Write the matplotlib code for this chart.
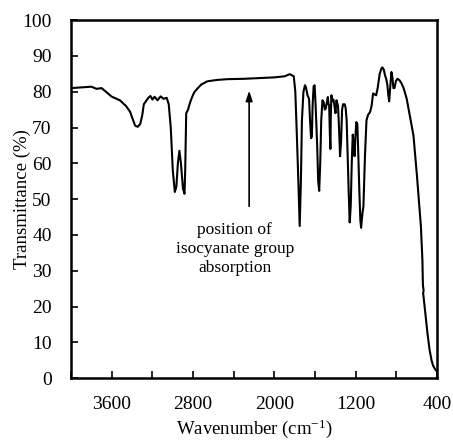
import matplotlib
matplotlib.use("Agg")
import matplotlib.pyplot as plt
from matplotlib.ticker import MultipleLocator, FuncFormatter

plt.rcParams['font.family'] = ['Liberation Serif', 'DejaVu Serif']
plt.rcParams['mathtext.fontset'] = 'custom'
plt.rcParams['mathtext.rm'] = 'Liberation Serif'

wavenumber = [4000, 3900, 3800, 3750, 3700, 3650, 3600, 3520, 3460, 3420, 3390, 3370, 3345, 3320,
              3300, 3285, 3260, 3240, 3220, 3200, 3180, 3150, 3120, 3090, 3060, 3040, 3020, 3000,
              2980, 2965, 2950, 2935, 2920, 2900, 2885, 2878, 2868, 2850, 2830, 2810, 2790, 2760,
              2720, 2660, 2560, 2460, 2300, 2141, 2000, 1900, 1850, 1810, 1795, 1780, 1765, 1752,
              1740, 1730, 1715, 1700, 1690, 1675, 1660, 1650, 1640, 1632, 1625, 1615, 1605, 1595,
              1580, 1570, 1560, 1550, 1540, 1528, 1515, 1505, 1495, 1485, 1475, 1468, 1462, 1455,
              1450, 1446, 1440, 1430, 1420, 1410, 1400, 1390, 1375, 1365, 1355, 1345, 1335, 1325,
              1310, 1300, 1290, 1280, 1270, 1260, 1250, 1240, 1230, 1220, 1212, 1205, 1195, 1185,
              1175, 1165, 1155, 1148, 1135, 1125, 1110, 1095, 1080, 1060, 1045, 1030, 1000, 985,
              965, 950, 940, 925, 912, 902, 890, 880, 872, 862, 850, 840, 830, 820, 805, 790, 770,
              750, 730, 700, 680, 660, 633, 600, 575, 560, 545, 540, 533, 538, 525, 505, 495, 475,
              455, 440, 420, 405]
transmittance = [81.0, 81.2, 81.4, 80.8, 81.0, 79.8, 78.6, 77.6, 76.0, 74.4, 72.0, 70.5, 70.2, 71.0,
                 73.5, 76.5, 77.5, 78.3, 78.8, 77.8, 78.6, 77.6, 78.7, 78.0, 78.3, 76.5, 70.0, 58.0,
                 52.0, 53.5, 60.0, 63.5, 60.0, 53.0, 51.5, 58.0, 74.0, 75.0, 77.0, 78.5, 79.8, 80.8,
                 82.0, 82.9, 83.3, 83.5, 83.6, 83.8, 84.0, 84.3, 84.9, 84.3, 80.0, 68.0, 55.0, 42.5,
                 55.0, 72.0, 80.0, 81.8, 81.2, 79.0, 78.0, 72.0, 67.0, 67.5, 76.0, 81.5, 81.8, 76.0,
                 65.0, 55.0, 52.3, 60.0, 72.0, 77.6, 77.0, 75.0, 75.3, 77.0, 78.5, 76.5, 76.2, 68.0,
                 64.0, 73.0, 79.0, 77.5, 77.8, 76.0, 74.0, 77.6, 76.0, 70.0, 62.0, 66.0, 75.0, 76.5,
                 76.5, 75.5, 72.0, 62.0, 52.0, 43.5, 48.0, 60.0, 68.0, 65.0, 62.0, 67.0, 71.5, 71.0,
                 62.0, 52.0, 44.0, 42.0, 46.0, 48.0, 62.0, 72.0, 73.5, 74.3, 76.0, 79.5, 79.0, 81.0,
                 85.0, 86.3, 86.8, 86.2, 84.5, 83.7, 82.0, 79.0, 77.3, 81.0, 85.5, 84.0, 81.0, 81.0,
                 83.0, 83.6, 83.2, 82.3, 81.0, 78.1, 75.0, 72.0, 67.8, 57.0, 48.0, 42.5, 33.0, 26.0,
                 24.5, 23.8, 20.5, 15.0, 12.5, 8.0, 5.0, 3.5, 2.5, 2.0]

x_tick_labels = [3600, 2800, 2000, 1200, 400]
annotation_lines = "position of\nisocyanate group\nabsorption"
arrow_wavenumber = 2249
arrow_tip = 80.3
arrow_tail = 48.0

fig = plt.figure(figsize=(4.53, 4.46), dpi=100)
ax = fig.add_axes([0.157, 0.152, 0.808, 0.803])
ax.plot(wavenumber, transmittance, color='black', lw=1.5)
ax.set_xlim(4000, 400)
ax.set_ylim(0, 100)

ax.xaxis.set_major_locator(MultipleLocator(400))
ax.xaxis.set_major_formatter(FuncFormatter(lambda v, p: f"{int(round(v))}" if int(round(v)) in x_tick_labels else ""))
ax.yaxis.set_major_locator(MultipleLocator(10))
ax.tick_params(direction='in', length=5, width=1.2, labelsize=14, colors='black')
ax.tick_params(axis='x', pad=13)
ax.tick_params(axis='y', pad=14)
for s in ax.spines.values():
    s.set_linewidth(1.8)

ax.set_xlabel('Wavenumber (cm$\\mathregular{^{-1}}$)', fontsize=13.5, labelpad=3)
ax.set_ylabel('Transmittance (%)', fontsize=13.5)
ax.yaxis.set_label_coords(-0.11, 0.5)

ax.annotate('', xy=(arrow_wavenumber, arrow_tip), xytext=(arrow_wavenumber, arrow_tail),
            arrowprops=dict(arrowstyle='-|>,head_length=0.6,head_width=0.2', color='black', lw=1.2,
                            shrinkA=0, shrinkB=0))
ax.text(2390, 43.5, annotation_lines, ha='center', va='top', fontsize=12.5, linespacing=1.25)

fig.savefig('out.png', dpi=100)
